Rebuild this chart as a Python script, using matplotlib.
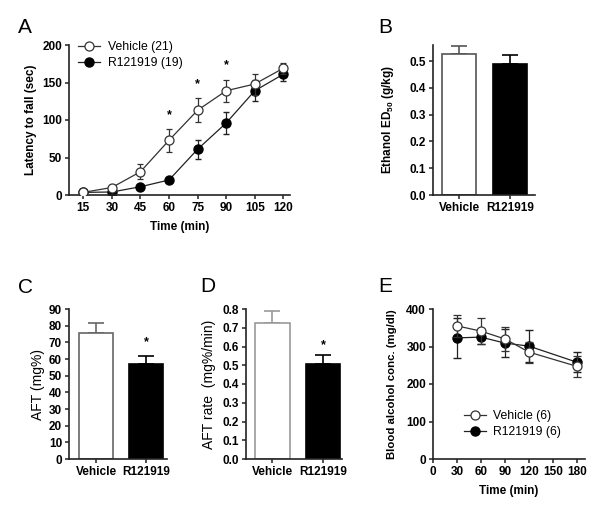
import numpy as np
import matplotlib
matplotlib.use("Agg")
import matplotlib.pyplot as plt
from matplotlib.lines import Line2D

plt.rcParams['font.family'] = ['Liberation Sans', 'DejaVu Sans']
plt.rcParams['mathtext.fontset'] = 'custom'
plt.rcParams['mathtext.rm'] = 'Liberation Sans:bold'
plt.rcParams['mathtext.bf'] = 'Liberation Sans:bold'

# Panel A - rotarod latency
time_a = [15, 30, 45, 60, 75, 90, 105, 120]
veh_a = [3.5, 10, 31, 73, 113, 139, 148, 169]
veh_a_err = [2, 3, 10, 15, 16, 15, 14, 7]
r12_a = [3.5, 4, 11, 20, 61, 96, 139, 161]
r12_a_err = [1.5, 1.5, 2, 2, 13, 15, 14, 9]
sig_a = [60, 75, 90]

# Panel B - ethanol ED50
groups = ['Vehicle', 'R121919']
ed50 = [0.526, 0.490]
ed50_err = [0.031, 0.031]

# Panel C - AFT
aft = [75.5, 57.0]
aft_err = [6.0, 4.6]

# Panel D - AFT rate
aft_rate = [0.725, 0.508]
aft_rate_err = [0.062, 0.045]

# Panel E - blood alcohol
time_e = [30, 60, 90, 120, 180]
veh_e = [355, 341, 320, 285, 247]
veh_e_err = [30, 35, 33, 28, 28]
r12_e = [323, 325, 309, 301, 258]
r12_e_err = [53, 18, 38, 43, 27]

W, H = 601, 518
fig = plt.figure(figsize=(W / 100, H / 100), dpi=100)


def px_axes(l, r, t, b):
    return fig.add_axes([l / W, 1 - b / H, (r - l) / W, (b - t) / H])


def style(ax):
    for s in ['top', 'right']:
        ax.spines[s].set_visible(False)
    for s in ['left', 'bottom']:
        ax.spines[s].set_linewidth(1.2)
        ax.spines[s].set_color('#222222')
    ax.tick_params(direction='out', length=3, width=1.1, color='#222222',
                   labelsize=8.5, pad=2)
    for lab in ax.get_xticklabels() + ax.get_yticklabels():
        lab.set_fontweight('bold')


def bar_panel(ax, vals, errs, edge):
    x = np.arange(len(vals))
    ax.bar(x, vals, width=0.68, color=['white', 'black'],
           edgecolor=[edge, 'black'], linewidth=1.2, zorder=2)
    for xi, v, e, c in zip(x, vals, errs, [edge, 'black']):
        ax.errorbar([xi], [v], yerr=[[0], [e]], fmt='none', ecolor=c,
                    elinewidth=1.2, capsize=6, capthick=1.2, zorder=1)
    ax.set_xticks(x)
    ax.set_xticklabels(groups)
    ax.tick_params(axis='x', length=0, pad=3)


def star(ax, x, y, dy):
    ax.annotate('*', (x, y), xytext=(0, dy), textcoords='offset points',
                ha='center', va='center', fontsize=9, fontweight='bold')


def legend_handles(labels):
    return [Line2D([0], [0], color='#333333', lw=0.9, marker='o', ms=6.5,
                   mfc='white', mec='#333333', mew=0.9, label=labels[0]),
            Line2D([0], [0], color='#222222', lw=0.9, marker='o', ms=6.5,
                   mfc='black', mec='black', label=labels[1])]


# ---- A ----
axA = px_axes(69, 290, 45, 195)
axA.errorbar(time_a, veh_a, yerr=veh_a_err, color='#333333', lw=0.9,
             marker='o', ms=6.5, mfc='white', mec='#333333', mew=0.9,
             capsize=2.5, elinewidth=0.9, zorder=3)
axA.errorbar(time_a, r12_a, yerr=r12_a_err, color='#222222', lw=0.9,
             marker='o', ms=6.5, mfc='black', mec='black',
             capsize=2.5, elinewidth=0.9, zorder=2)
for t in sig_a:
    i = time_a.index(t)
    star(axA, t, veh_a[i] + veh_a_err[i], 10)
axA.set_xlim(7.5, 123.5)
axA.set_ylim(0, 200)
axA.set_xticks(time_a)
axA.set_yticks([0, 50, 100, 150, 200])
axA.set_xlabel('Time (min)', fontsize=8.5, fontweight='bold', labelpad=5)
axA.set_ylabel('Latency to fall (sec)', fontsize=8.5, fontweight='bold')
axA.yaxis.set_label_coords(-0.145, 0.5)
style(axA)
axA.legend(handles=legend_handles(['Vehicle (21)', 'R121919 (19)']),
           loc='upper left', bbox_to_anchor=(0.02, 1.06), frameon=False,
           fontsize=8.8, handlelength=1.8, handletextpad=0.6,
           labelspacing=0.35, borderaxespad=0)

# ---- B ----
axB = px_axes(433, 535, 45, 195)
bar_panel(axB, ed50, ed50_err, '#555555')
axB.set_xlim(-0.52, 1.5)
axB.set_ylim(0, 0.56)
axB.set_yticks([0, 0.1, 0.2, 0.3, 0.4, 0.5])
axB.set_yticklabels(['0.0', '0.1', '0.2', '0.3', '0.4', '0.5'])
axB.set_ylabel(r'Ethanol ED$_{50}$ (g/kg)', fontsize=8.5, fontweight='bold')
axB.yaxis.set_label_coords(-0.36, 0.5)
style(axB)

# ---- C ----
axC = px_axes(69, 167, 309, 459)
bar_panel(axC, aft, aft_err, '#666666')
star(axC, 1, aft[1] + aft_err[1], 10)
axC.set_xlim(-0.54, 1.42)
axC.set_ylim(0, 90)
axC.set_yticks(range(0, 91, 10))
axC.set_ylabel('AFT (mg%)', fontsize=10)
axC.yaxis.set_label_coords(-0.25, 0.5)
style(axC)

# ---- D ----
axD = px_axes(246, 342, 309, 459)
bar_panel(axD, aft_rate, aft_rate_err, '#999999')
star(axD, 1, aft_rate[1] + aft_rate_err[1], 7)
axD.set_xlim(-0.52, 1.37)
axD.set_ylim(0, 0.8)
axD.set_yticks(np.arange(0, 0.81, 0.1))
axD.set_yticklabels(['%.1f' % v for v in np.arange(0, 0.81, 0.1)])
axD.set_ylabel('AFT rate  (mg%/min)', fontsize=10)
axD.yaxis.set_label_coords(-0.31, 0.5)
style(axD)

# ---- E ----
axE = px_axes(433, 585, 309, 459)
axE.errorbar(time_e, veh_e, yerr=veh_e_err, color='#333333', lw=0.9,
             marker='o', ms=6.5, mfc='white', mec='#333333', mew=0.9,
             capsize=3, elinewidth=0.9, zorder=3)
axE.errorbar(time_e, r12_e, yerr=r12_e_err, color='#222222', lw=0.9,
             marker='o', ms=6.5, mfc='black', mec='black',
             capsize=3, elinewidth=0.9, zorder=2)
axE.set_xlim(0, 190)
axE.set_ylim(0, 400)
axE.set_xticks(range(0, 181, 30))
axE.set_yticks(range(0, 401, 100))
axE.set_xlabel('Time (min)', fontsize=8.5, fontweight='bold', labelpad=5)
axE.set_ylabel('Blood alcohol conc. (mg/dl)', fontsize=8.2, fontweight='bold')
axE.yaxis.set_label_coords(-0.24, 0.5)
style(axE)
axE.legend(handles=legend_handles(['Vehicle (6)', 'R121919 (6)']),
           loc='upper left', bbox_to_anchor=(0.17, 0.36), frameon=False,
           fontsize=8.8, handlelength=1.8, handletextpad=0.6,
           labelspacing=0.35, borderaxespad=0)

# panel letters
for letter, x, y in [('A', 18, 33), ('B', 378, 33), ('C', 18, 293),
                     ('D', 200, 292), ('E', 378, 292)]:
    fig.text(x / W, 1 - y / H, letter, fontsize=15, ha='left', va='baseline')

fig.savefig('out.png', dpi=100)
